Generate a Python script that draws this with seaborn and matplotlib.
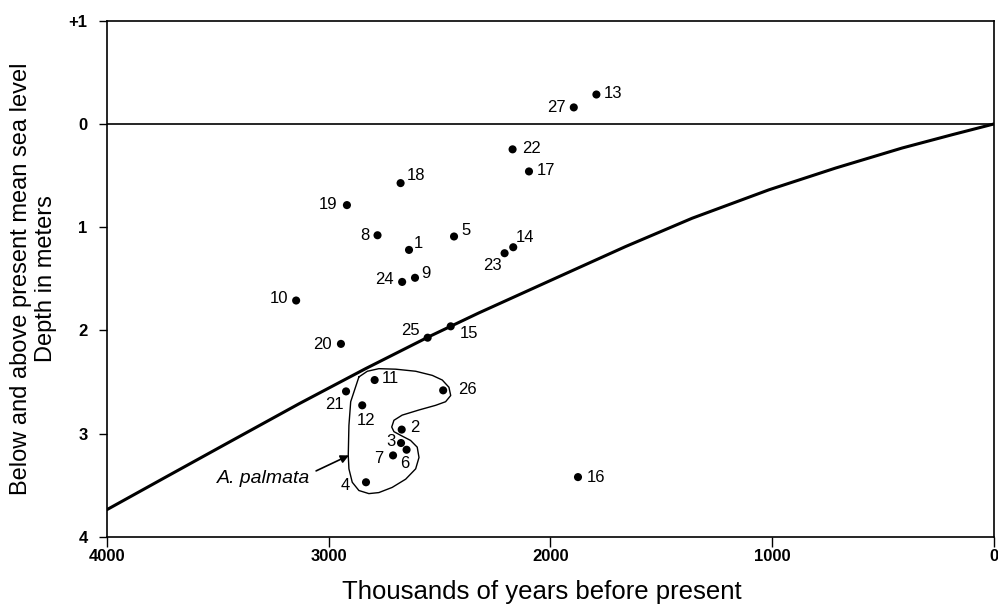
import matplotlib
matplotlib.use("Agg")
import matplotlib.pyplot as plt
import seaborn as sns
import pandas as pd

# puntos muestreados (años antes del presente, profundidad en m)
ids = [1, 2, 3, 4, 5, 6, 7, 8, 9, 10, 11, 12, 13, 14, 15, 16, 17, 18, 19, 20,
       21, 22, 23, 24, 25, 26, 27]
years = [2638, 2671, 2674, 2832, 2435, 2649, 2710, 2780, 2611, 3147, 2793, 2849,
         1793, 2168, 2450, 1876, 2097, 2676, 2918, 2945, 2922, 2171, 2207, 2669,
         2554, 2484, 1895]
depth = [1.22, 2.96, 3.09, 3.47, 1.09, 3.155, 3.21, 1.078, 1.49, 1.71, 2.48, 2.725,
         -0.285, 1.194, 1.96, 3.42, 0.46, 0.573, 0.786, 2.13, 2.59, 0.246, 1.252,
         1.53, 2.07, 2.58, -0.16]

# curva de nivel del mar
curve_years = [4000, 3735, 3435, 3134, 2834, 2548, 2323, 1962, 1661, 1361, 1015,
               714, 414, 188, 0]
curve_depth = [3.735, 3.42, 3.065, 2.71, 2.37, 2.06, 1.83, 1.479, 1.187, 0.913,
               0.638, 0.427, 0.233, 0.104, 0.0]

# contorno A. palmata
outline_years = [2864, 2901, 2909, 2912, 2909, 2894, 2864, 2819, 2774, 2714, 2653,
                 2608, 2593, 2601, 2631, 2676, 2706, 2716, 2706, 2669, 2593, 2518,
                 2473, 2450, 2458, 2488, 2533, 2608, 2698, 2774, 2826, 2864]
outline_depth = [2.45, 2.69, 2.92, 3.21, 3.34, 3.47, 3.55, 3.58, 3.57, 3.52, 3.44,
                 3.34, 3.23, 3.13, 3.065, 3.015, 2.98, 2.935, 2.87, 2.82, 2.77, 2.725,
                 2.69, 2.63, 2.55, 2.48, 2.435, 2.395, 2.375, 2.37, 2.395, 2.45]

yticks = [-1, 0, 1, 2, 3, 4]
ytick_labels = ["+1", "0", "1", "2", "3", "4"]
xticks = [4000, 3000, 2000, 1000, 0]

# posición de las etiquetas (pixeles respecto al punto)
offsets = {13: (17, 1), 27: (-17, 0), 22: (19, 1), 17: (17, 1), 18: (15, 8),
           19: (-19, 1), 8: (-13, 0), 1: (9, 6), 5: (12, 6), 14: (12, 10),
           23: (-12, -12), 9: (11, 4), 24: (-18, 2), 10: (-17, 2), 20: (-19, -1),
           25: (-17, 7), 15: (18, -7), 11: (16, 2), 21: (-12, -13), 12: (4, -15),
           26: (24, 1), 2: (13, 2), 3: (-10, 2), 6: (-2, -14), 7: (-14, -3),
           4: (-21, -3), 16: (18, 0)}

df = pd.DataFrame({"id": ids, "years": years, "depth": depth})

sns.set_style("ticks")
plt.rcParams["font.family"] = ["Liberation Sans", "DejaVu Sans"]
plt.rcParams["text.color"] = "black"
plt.rcParams["axes.labelcolor"] = "black"

fig = plt.figure(figsize=(9.98, 6.08), dpi=100)
ax = fig.add_axes([0.1072, 0.1168, 0.8888, 0.8492])

sns.lineplot(x=curve_years, y=curve_depth, ax=ax, color="black", lw=2.2,
             sort=False, estimator=None)
ax.plot(outline_years, outline_depth, color="black", lw=1.0)
ax.axhline(0, color="black", lw=1.2)
sns.scatterplot(data=df, x="years", y="depth", ax=ax, color="black", s=34,
                edgecolor="none", zorder=3)

for i, xv, yv in zip(ids, years, depth):
    dx, dy = offsets[i]
    ax.annotate(str(i), (xv, yv), xytext=(dx, dy), textcoords="offset pixels",
                ha="center", va="center", fontsize=12, color="black")

ax.text(3082, 3.43, "A. palmata", ha="right", va="center", fontsize=14,
        style="italic", color="black")
ax.annotate("", xy=(2909, 3.21), xytext=(3057, 3.36),
            arrowprops=dict(arrowstyle="-|>", color="black", lw=1.2,
                            mutation_scale=12, shrinkA=0, shrinkB=0))

ax.set_xlim(4000, 0)
ax.set_ylim(4, -1)
ax.set_xticks(xticks)
ax.set_xticklabels([str(t) for t in xticks], fontweight="bold", fontsize=12)
ax.set_yticks(yticks)
ax.set_yticklabels(ytick_labels, fontweight="bold", fontsize=12)
ax.tick_params(axis="x", length=7, width=1, pad=2, colors="black")
ax.tick_params(axis="y", length=6, width=1, pad=8, colors="black")
for s in ax.spines.values():
    s.set_visible(True)
    s.set_color("black")
    s.set_linewidth(1.2)

ax.set_xlabel("Thousands of years before present", fontsize=18.5)
ax.xaxis.set_label_coords(0.49, -0.084)
ax.set_ylabel("Below and above present mean sea level\nDepth in meters",
              fontsize=17, labelpad=8, linespacing=1.2)

fig.savefig("out.png", dpi=100)
